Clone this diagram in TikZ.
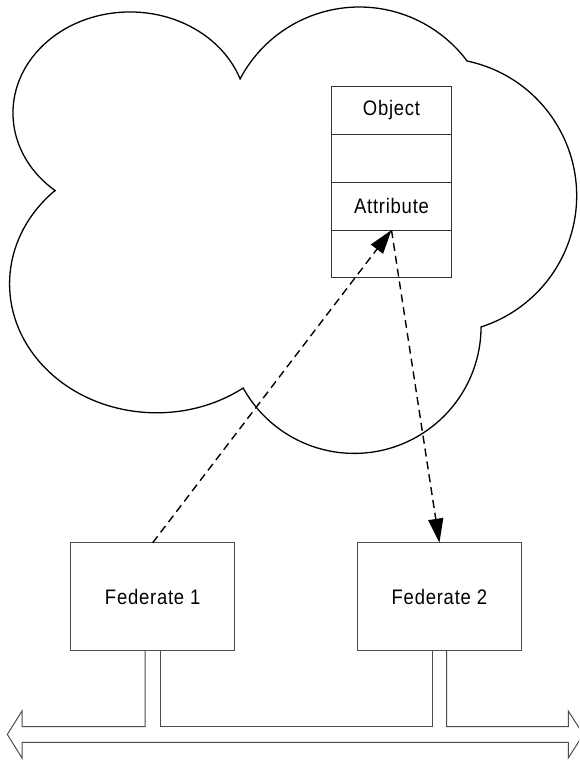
\documentclass[tikz,border=0pt]{standalone}
\usepackage{fontspec}
\setmainfont{Liberation Sans}
\newfontfamily\lblfont[FakeStretch=0.88,LetterSpace=3.6]{Liberation Sans}
\usetikzlibrary{arrows.meta,calc}
\begin{document}
\begin{tikzpicture}[x=1pt,y=-1pt,
  cloudline/.style={draw=black, line width=1.3pt},
  fedbox/.style={draw=black!70, line width=1pt, minimum width=163.5pt, minimum height=108pt, inner sep=0pt, outer sep=0pt, font=\lblfont\fontsize{21}{24}\selectfont},
  objrow/.style={draw=black!80, line width=1pt, minimum width=120pt, minimum height=47.8pt, inner sep=0pt, outer sep=0pt, font=\lblfont\fontsize{21}{24}\selectfont},
  dasharr/.style={draw=black, line width=1.4pt, dash pattern=on 8pt off 5pt, -{Triangle[length=24pt,width=15pt]}},
  busline/.style={draw=black!70, line width=1pt}]
\useasboundingbox (0,0) rectangle (579,760);
\fill[white] (0,0) rectangle (579,760);
\clip (0,0) rectangle (579,760);

% cloud
\draw[cloudline] (55.7,191)
  arc[start angle=230.6, end angle=19.7, x radius=117pt, y radius=101pt]
  arc[start angle=152.2, end angle=36.8, radius=134.7pt]
  arc[start angle=78.2, end angle=-72.2, radius=137.7pt]
  arc[start angle=-0.2, end angle=-151.0, radius=126.9pt]
  arc[start angle=-53.9, end angle=-226.3, x radius=147pt, y radius=129pt] -- cycle;

% object table
\node[objrow] (obj1) at (391.5,110.5) {Object};
\node[objrow] (obj2) at (391.5,158.3) {};
\node[objrow] (obj3) at (391.5,206.2) {Attribute};
\node[objrow] (obj4) at (391.5,254) {};

% federates
\node[fedbox] (f1) at (152.7,596.7) {Federate 1};
\node[fedbox] (f2) at (439.4,596.7) {Federate 2};

% bus
\draw[busline] ($(f1.south)+(-7.5,0)$) -- ($(f1.south)+(-7.5,75.8)$) -- (22,726.5) -- (22,711) -- (7.3,734.4) -- (22,758) -- (22,742.3)
  -- (568.3,742.3) -- (568.3,758) -- (583.3,734.4) -- (568.3,711) -- (568.3,726.5)
  -- ($(f2.south)+(7.2,75.8)$) -- ($(f2.south)+(7.2,0)$);
\draw[busline] ($(f1.south)+(7.5,0)$) -- ($(f1.south)+(7.5,75.8)$) -- ($(f2.south)+(-7.2,75.8)$) -- ($(f2.south)+(-7.2,0)$);

% dashed arrows
\draw[dasharr] (f1.north) -- (obj3.south);
\draw[dasharr] (obj3.south) -- (f2.north);
\end{tikzpicture}
\end{document}
